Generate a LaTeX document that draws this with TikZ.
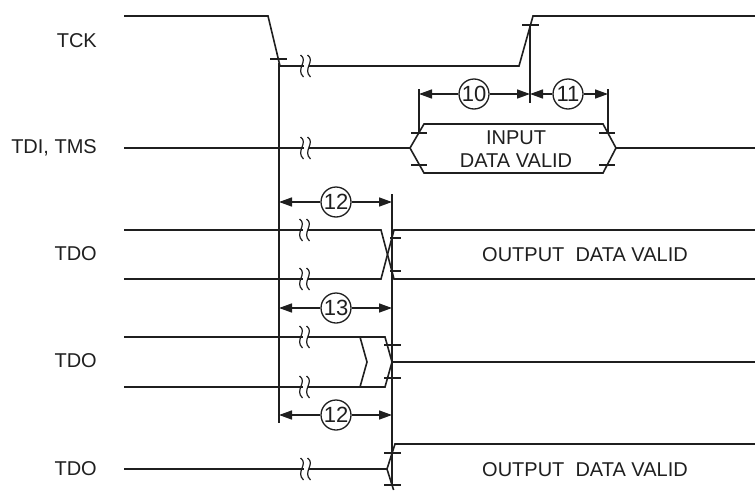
\documentclass[tikz,border=0pt]{standalone}
\usepackage{fontspec}
\setmainfont{Liberation Sans}
\usetikzlibrary{arrows.meta}
\begin{document}
\begin{tikzpicture}[x=1pt,y=-1pt,
  wave/.style={draw=black!88, line width=1.6pt, line join=miter},
  tk/.style={draw=black!88, line width=1.3pt},
  ext/.style={draw=black!88, line width=1.5pt},
  lbl/.style={font=\fontsize{20}{22}\selectfont, text=black!88, anchor=east, inner sep=0pt},
  txt/.style={font=\fontsize{20}{23.5}\selectfont, text=black!88, align=center, inner sep=0pt},
  num/.style={circle, draw=black!88, line width=1.3pt, minimum size=30pt, inner sep=0pt, fill=white,
              font=\fontsize{22}{22}\selectfont, text=black!88},
  dim/.style={draw=black!88, line width=1.5pt, -{Triangle[length=13pt,width=9pt]}},
  brk/.pic={
    \fill[white] (-2.5,-6) rectangle (2.5,6);
    \draw[line width=1.2pt, black!88] (-5.5,-11) .. controls (3,-5) and (-11,3) .. (-2.5,11);
    \draw[line width=1.2pt, black!88] (1.5,-11) .. controls (10,-5) and (-4,3) .. (4.5,11);
  }
]
\useasboundingbox (0,0) rectangle (755,490);

% ---------- labels ----------
\node[lbl] (lTCK) at (97,41) {TCK};
\node[lbl] (lTDI) at (97,148) {TDI, TMS};
\node[lbl] (lTDO1) at (97,254) {TDO};
\node[lbl] (lTDO2) at (97,361) {TDO};
\node[lbl] (lTDO3) at (97,469) {TDO};

% ---------- TCK ----------
\draw[wave] (124,16) -- (268,16) -- (280,66) -- (519,66) -- (533,16) -- (755,16);
\pic at (306,66) {brk};
\draw[tk] (270,59) -- (287,59);
\draw[tk] (522,25) -- (539,25);

% reference verticals
\coordinate (vLtop) at (279,63);
\coordinate (vLbot) at (279,423);
\draw[ext] (vLtop) -- (vLbot);
\coordinate (vRtop) at (392,194);
\coordinate (vRbot) at (392,486);
\draw[ext] (vRtop) -- (vRbot);
\coordinate (vTtop) at (530,25);
\coordinate (vTbot) at (530,103);
\draw[ext] (vTtop) -- (vTbot);

% ---------- TDI, TMS ----------
\draw[wave] (124,148) -- (410,148) -- (424,124) -- (603,124) -- (616,148) -- (755,148);
\draw[wave] (410,148) -- (424,173) -- (603,173) -- (616,148);
\pic at (306,148) {brk};
\draw[tk] (411,133) -- (427,133);
\draw[tk] (411,165) -- (427,165);
\draw[tk] (599,133) -- (615,133);
\draw[tk] (599,165) -- (615,165);
\node[txt] (tin) at (516,149) {INPUT\\DATA VALID};
\coordinate (e10top) at (419,89);
\coordinate (e10bot) at (419,133);
\draw[ext] (e10top) -- (e10bot);
\coordinate (e11top) at (608,89);
\coordinate (e11bot) at (608,133);
\draw[ext] (e11top) -- (e11bot);

% dimensions 10 / 11
\node[num] (c10) at (474,94) {10};
\node[num] (c11) at (568,94) {11};
\coordinate (d10l) at (419,94);
\coordinate (d10r) at (530,94);
\coordinate (d11r) at (608,94);
\draw[dim] (c10) -- (d10l);
\draw[dim] (c10) -- (d10r);
\draw[dim] (c11) -- (d10r);
\draw[dim] (c11) -- (d11r);

% ---------- TDO 1 ----------
\node[num] (c12a) at (336,202) {12};
\coordinate (d12al) at (279,202);
\coordinate (d12ar) at (392,202);
\draw[dim] (c12a) -- (d12al);
\draw[dim] (c12a) -- (d12ar);
\draw[wave] (124,230) -- (381,230) -- (394,279) -- (755,279);
\draw[wave] (124,279) -- (381,279) -- (394,230) -- (755,230);
\pic at (305,230) {brk};
\pic at (305,279) {brk};
\draw[tk] (390,238) -- (401,238);
\draw[tk] (390,271) -- (401,271);
\node[txt] (tout1) at (585,255) {OUTPUT\ \ DATA VALID};

% ---------- TDO 2 ----------
\node[num] (c13) at (336,308) {13};
\coordinate (d13l) at (279,308);
\coordinate (d13r) at (392,308);
\draw[dim] (c13) -- (d13l);
\draw[dim] (c13) -- (d13r);
\draw[wave] (124,337) -- (385,337) -- (392,362) -- (385,387) -- (124,387);
\draw[wave] (360,337) -- (367,362) -- (360,387);
\draw[wave] (392,362) -- (755,362);
\pic at (305,337) {brk};
\pic at (305,387) {brk};
\draw[tk] (384,345) -- (401,345);
\draw[tk] (384,378) -- (401,378);

% ---------- TDO 3 ----------
\node[num] (c12b) at (336,415) {12};
\coordinate (d12bl) at (279,415);
\coordinate (d12br) at (392,415);
\draw[dim] (c12b) -- (d12bl);
\draw[dim] (c12b) -- (d12br);
\draw[wave] (124,469) -- (387,469) -- (395,444) -- (755,444);
\draw[wave] (387,469) -- (393.6,490);
\pic at (306,469) {brk};
\draw[tk] (384,453) -- (401,453);
\draw[tk] (384,485) -- (401,485);
\node[txt] (tout2) at (585,470) {OUTPUT\ \ DATA VALID};
\end{tikzpicture}
\end{document}
